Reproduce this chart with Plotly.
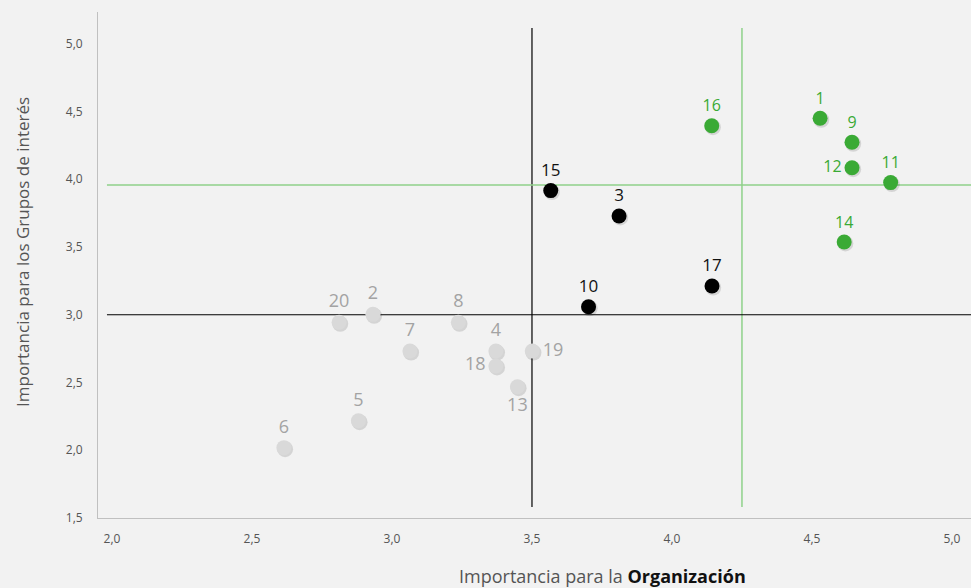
import plotly.graph_objects as go

# Data
labels = ["1", "9", "12", "11", "14", "16",
          "15", "3", "10", "17",
          "20", "2", "8", "7", "4", "18", "19", "13", "5", "6"]
org = [4.529, 4.643, 4.643, 4.781, 4.615, 4.142,
       3.567, 3.811, 3.702, 4.143,
       2.811, 2.932, 3.237, 3.064, 3.371, 3.371, 3.501, 3.448, 2.880, 2.614]
grp = [4.450, 4.273, 4.085, 3.975, 3.537, 4.395,
       3.916, 3.729, 3.059, 3.212,
       2.944, 3.003, 2.944, 2.732, 2.732, 2.622, 2.732, 2.469, 2.218, 2.019]
group = ["g"] * 6 + ["b"] * 4 + ["l"] * 10
text_pos = ["top center", "top center", "middle left", "top center", "top center", "top center",
            "top center", "top center", "top center", "top center",
            "top center", "top center", "top center", "top center", "top center",
            "middle left", "middle right", "bottom center", "top center", "top center"]

x_ticks = [2.0, 2.5, 3.0, 3.5, 4.0, 4.5, 5.0]
y_ticks = [1.5, 2.0, 2.5, 3.0, 3.5, 4.0, 4.5, 5.0]
tick_text = lambda v: f"{v:.1f}".replace(".", ",")

thr_black_x, thr_black_y = 3.5, 3.0
thr_green_x, thr_green_y = 4.25, 3.958

styles = {
    "g": dict(marker="#3aaa35", text="#3aaa35", size=16),
    "b": dict(marker="#000000", text="#111111", size=17),
    "l": dict(marker="#d9d9d9", text="#a3a3a3", size=18),
}

fig = go.Figure()

x_range = [1.95, 5.068]
y_range = [1.5, 5.234]

# Reference lines
fig.add_shape(type="line", x0=thr_black_x, x1=thr_black_x, y0=1.581, y1=5.116,
              line=dict(color="#000000", width=1.2), layer="below")
fig.add_shape(type="line", x0=thr_green_x, x1=thr_green_x, y0=1.581, y1=5.116,
              line=dict(color="#8fd18a", width=1.5), layer="below")
fig.add_shape(type="line", x0=1.982, x1=x_range[1], y0=thr_black_y, y1=thr_black_y,
              line=dict(color="#000000", width=1.2), layer="below")
fig.add_shape(type="line", x0=1.982, x1=x_range[1], y0=thr_green_y, y1=thr_green_y,
              line=dict(color="#8fd18a", width=1.5), layer="below")

for key in ["l", "b", "g"]:
    idx = [i for i, g in enumerate(group) if g == key]
    st = styles[key]
    # subtle shadow
    fig.add_trace(go.Scatter(
        x=[org[i] + 1.2 / 280 for i in idx], y=[grp[i] - 1.5 / 135.5 for i in idx],
        mode="markers", marker=dict(size=16, color="rgba(0,0,0,0.12)"),
        hoverinfo="skip", showlegend=False))
    fig.add_trace(go.Scatter(
        x=[org[i] for i in idx], y=[grp[i] for i in idx],
        mode="markers+text",
        text=[labels[i] for i in idx],
        textposition=[text_pos[i] for i in idx],
        textfont=dict(family="Open Sans", size=st["size"], color=st["text"]),
        marker=dict(size=15, color=st["marker"]),
        showlegend=False, cliponaxis=False))

fig.update_layout(
    width=971, height=588,
    margin=dict(l=98, r=0, t=12, b=70),
    paper_bgcolor="#f2f2f2", plot_bgcolor="#f2f2f2",
    font=dict(family="Open Sans", color="#555555"),
    xaxis=dict(range=x_range, tickvals=x_ticks, ticktext=[tick_text(v) for v in x_ticks],
               showgrid=False, zeroline=False, showline=True, linecolor="#c0c0c0", linewidth=1,
               ticks="", ticklabelstandoff=10, tickfont=dict(size=12, color="#555555")),
    yaxis=dict(range=y_range, tickvals=y_ticks, ticktext=[tick_text(v) for v in y_ticks],
               showgrid=False, zeroline=False, showline=True, linecolor="#c0c0c0", linewidth=1,
               ticks="", ticklabelstandoff=12, tickfont=dict(size=12, color="#555555")),
    annotations=[
        dict(text="Importancia para la <b style='color:#111'>Organización</b>",
             xref="paper", yref="paper", x=(602.5 - 98) / 873, y=-(576 - 518) / 506,
             xanchor="center", yanchor="middle", showarrow=False,
             font=dict(family="Open Sans", size=18, color="#555555")),
        dict(text="Importancia para los Grupos de interés",
             xref="paper", yref="paper", x=-(98 - 22) / 873, y=(518 - 252) / 506,
             xanchor="center", yanchor="middle", textangle=-90, showarrow=False,
             font=dict(family="Open Sans", size=17, color="#555555")),
    ],
)

fig.write_html("out.html", config={"displayModeBar": False},
               post_script="document.body.style.margin='0';document.body.style.overflow='hidden';")
